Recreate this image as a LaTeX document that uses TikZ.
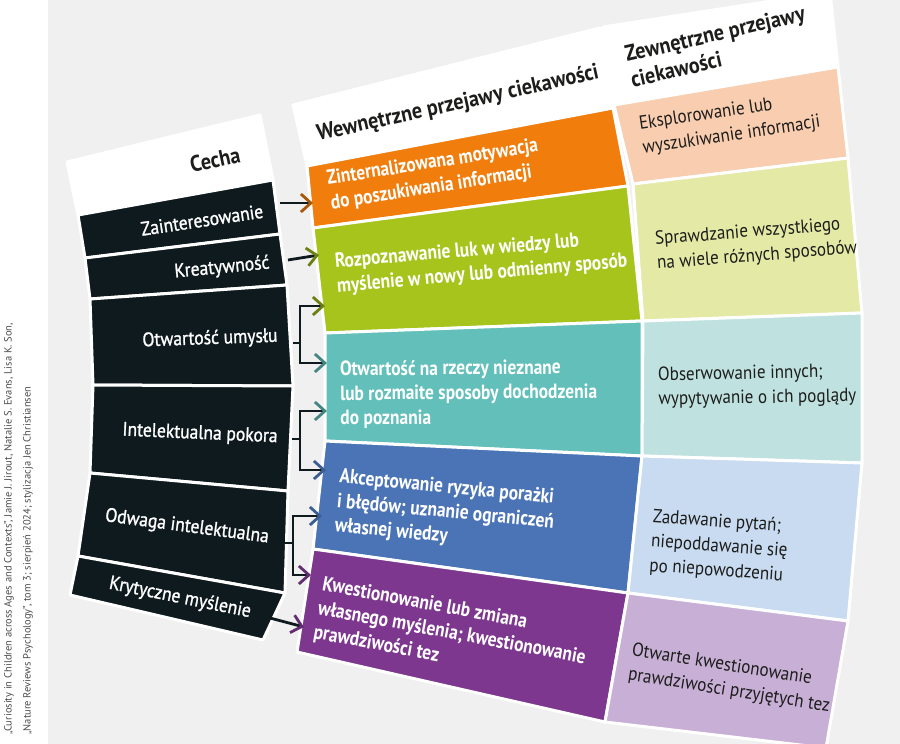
\documentclass[tikz,border=0pt]{standalone}
\usepackage{fontspec}
\setmainfont{PT Sans}
\newfontfamily\cellfont[FakeStretch=0.9]{PT Sans}
\newfontfamily\midfont[FakeStretch=0.85]{PT Sans}
\newfontfamily\leftfont[FakeStretch=0.9, FakeBold=1.2]{PT Sans}
\usetikzlibrary{arrows.meta}
\definecolor{bggrey}{HTML}{F0F0F0}
\definecolor{darkc}{HTML}{0E1A1E}
\definecolor{orangec}{HTML}{F07D0C}
\definecolor{greenc}{HTML}{A6C41C}
\definecolor{tealc}{HTML}{62BFBA}
\definecolor{bluec}{HTML}{4B74B7}
\definecolor{purplec}{HTML}{7D378F}
\definecolor{peachc}{HTML}{F8CDB0}
\definecolor{palegreenc}{HTML}{E4E9A6}
\definecolor{paletealc}{HTML}{BFE2E0}
\definecolor{palebluec}{HTML}{C8DBF1}
\definecolor{lavenderc}{HTML}{C8AFD6}
\definecolor{inkc}{HTML}{1D1D1B}

\begin{document}
\begin{tikzpicture}[
    x=1pt, y=-1pt,
    cell/.style={draw=white, line width=3pt, line join=round},
    headtxt/.style={font=\cellfont\fontsize{22.5}{26}\selectfont\bfseries, text=inkc, align=left, inner sep=0pt},
    lefttxt/.style={font=\leftfont\fontsize{19.5}{23}\selectfont, text=white, inner sep=0pt},
    midtxt/.style={font=\midfont\fontsize{20.5}{24.5}\selectfont\bfseries, text=white, align=left, inner sep=0pt},
    righttxt/.style={font=\cellfont\fontsize{19}{24.5}\selectfont, text=inkc, align=left, inner sep=0pt},
    conn/.style={line width=2.8pt, draw=darkc, {Circle[length=7pt]}-{Straight Barb[length=10pt,width=18pt]}},
]
\useasboundingbox (0,0) rectangle (900,744);
\fill[white] (0,0) rectangle (900,744);
\fill[bggrey] (48,0) rectangle (900,744);

% Cecha column
\path[cell, fill=white] (67,162) -- (260,115) -- (273,180) -- (78,215) -- cycle;
\path[cell, fill=darkc] (78,215) -- (273,180) -- (280,234) -- (85,258) -- cycle;
\path[cell, fill=darkc] (85,258) -- (280,234) -- (287,285) -- (90,299) -- cycle;
\path[cell, fill=darkc] (90,299) -- (287,285) -- (293,386) -- (93,385) -- cycle;
\path[cell, fill=darkc] (93,385) -- (293,386) -- (288,491) -- (90,473) -- cycle;
\path[cell, fill=darkc] (90,473) -- (288,491) -- (285,593) -- (78,556) -- cycle;
\path[cell, fill=darkc] (78,556) -- (285,593) -- (263,640) -- (70,595) -- cycle;

% inner column
\path[cell, fill=white] (293,105) -- (600,28) -- (613,108) -- (307,166) -- cycle;
\path[cell, fill=orangec] (307,166) -- (613,108) -- (628,186) -- (313,228) -- cycle;
\path[cell, fill=greenc] (313,228) -- (628,186) -- (642,321) -- (325,333) -- cycle;
\path[cell, fill=tealc] (325,333) -- (642,321) -- (642,456) -- (325,441) -- cycle;
\path[cell, fill=bluec] (325,441) -- (642,456) -- (628,593) -- (313,549) -- cycle;
\path[cell, fill=purplec] (313,549) -- (628,593) -- (605,722) -- (297,652) -- cycle;

% outer column
\path[cell, fill=white] (603,27) -- (830,-8) -- (838,67) -- (614,105) -- cycle;
\path[cell, fill=peachc] (614,105) -- (838,67) -- (848,158) -- (633,184) -- cycle;
\path[cell, fill=palegreenc] (633,184) -- (848,158) -- (862,313) -- (643,321) -- cycle;
\path[cell, fill=paletealc] (643,321) -- (862,313) -- (862,463) -- (642,456) -- cycle;
\path[cell, fill=palebluec] (642,456) -- (862,463) -- (848,621) -- (628,593) -- cycle;
\path[cell, fill=lavenderc] (628,593) -- (848,621) -- (826,748) -- (605,722) -- cycle;

% Nodes
\node[headtxt, rotate=12] (cecha) at (215,160) {Cecha};
\node[lefttxt, rotate=8.5] (zai) at (202,220) {Zainteresowanie};
\node[lefttxt, rotate=5.5] (kre) at (222,268) {Kreatywność};
\node[lefttxt, rotate=2] (otw) at (210,339) {Otwartość umysłu};
\node[lefttxt, rotate=-2.5] (int) at (200,434) {Intelektualna pokora};
\node[lefttxt, rotate=-7.5] (odw) at (187,527) {Odwaga intelektualna};
\node[lefttxt, rotate=-11.5] (kry) at (180,598) {Krytyczne myślenie};

\node[headtxt, rotate=12.5] (wew) at (458,104) {Wewnętrzne przejawy ciekawości};
\node[midtxt, rotate=9, anchor=west] (mot) at (329,192) {Zinternalizowana motywacja\\do poszukiwania informacji};
\node[midtxt, rotate=5, anchor=west] (roz) at (336,275) {Rozpoznawanie luk w wiedzy lub\\myślenie w nowy lub odmienny sposób};
\node[midtxt, rotate=0.5, anchor=west] (otn) at (340,395) {Otwartość na rzeczy nieznane\\lub rozmaite sposoby dochodzenia\\do poznania};
\node[midtxt, rotate=-5.5, anchor=west] (akc) at (337,502) {Akceptowanie ryzyka porażki\\i błędów; uznanie ograniczeń\\własnej wiedzy};
\node[midtxt, rotate=-10.5, anchor=west] (kwe) at (318,609) {Kwestionowanie lub zmiana\\własnego myślenia; kwestionowanie\\prawdziwości tez};

\node[headtxt, rotate=13, anchor=west] (zew) at (628,67) {Zewnętrzne przejawy\\ciekawości};
\node[righttxt, rotate=8.5, anchor=west] (eks) at (641,137) {Eksplorowanie lub\\wyszukiwanie informacji};
\node[righttxt, rotate=4.5, anchor=west] (spr) at (656,252) {Sprawdzanie wszystkiego\\na wiele różnych sposobów};
\node[righttxt, rotate=1, anchor=west] (obs) at (658,388) {Obserwowanie innych;\\wypytywanie o ich poglądy};
\node[righttxt, rotate=-4, anchor=west] (zad) at (651,542) {Zadawanie pytań;\\niepoddawanie się\\po niepowodzeniu};
\node[righttxt, rotate=-9, anchor=west] (otk) at (630,663) {Otwarte kwestionowanie\\prawdziwości przyjętych tez};

\node[font=\fontsize{10.5}{19}\selectfont, text=black!70, rotate=90, anchor=north west, align=left, inner sep=0pt] (src) at (4,735)
  {„Curiosity in Children across Ages and Contexts”, Jamie J. Jirout, Natalie S. Evans, Lisa K. Son,\\„Nature Reviews Psychology”, tom 3; sierpień 2024; stylizacja Jen Christiansen};

% Ports
\coordinate (zai-out) at (280,203);
\coordinate (kre-out) at (288,260);
\coordinate (otw-out) at (293,343);
\coordinate (int-out) at (292,439);
\coordinate (odw-out) at (283,543);
\coordinate (kry-out) at (270,618);
\coordinate (mot-in) at (313,203);
\coordinate (roz-in) at (319,255);
\coordinate (roz-in2) at (325,306);
\coordinate (otn-in) at (327,363);
\coordinate (otn-in2) at (327,411);
\coordinate (akc-in) at (326,470);
\coordinate (akc-in2) at (322,516);
\coordinate (kwe-in) at (311,575);
\coordinate (kwe-in2) at (304,627);

% Arrows
\draw[conn, -{Straight Barb[length=10pt,width=18pt,color=orangec!70!black]}] (zai-out) -- (mot-in);
\draw[conn, -{Straight Barb[length=10pt,width=18pt,color=greenc!65!black]}] (kre-out) -- (roz-in);
\draw[conn, -{Straight Barb[length=10pt,width=18pt,color=greenc!65!black]}] (otw-out) -- ++(7,0) |- (roz-in2);
\draw[conn, -{Straight Barb[length=10pt,width=18pt,color=tealc!70!black]}] (otw-out) -- ++(7,0) |- (otn-in);
\draw[conn, -{Straight Barb[length=10pt,width=18pt,color=tealc!70!black]}] (int-out) -- ++(8,0) |- (otn-in2);
\draw[conn, -{Straight Barb[length=10pt,width=18pt,color=bluec!80!black]}] (int-out) -- ++(8,0) |- (akc-in);
\draw[conn, -{Straight Barb[length=10pt,width=18pt,color=bluec!80!black]}] (odw-out) -- ++(10,0) |- (akc-in2);
\draw[conn, -{Straight Barb[length=10pt,width=18pt,color=purplec!80!black]}] (odw-out) -- ++(10,0) |- (kwe-in);
\draw[conn, -{Straight Barb[length=10pt,width=18pt,color=purplec!80!black]}] (kry-out) -- (kwe-in2);
\end{tikzpicture}
\end{document}
